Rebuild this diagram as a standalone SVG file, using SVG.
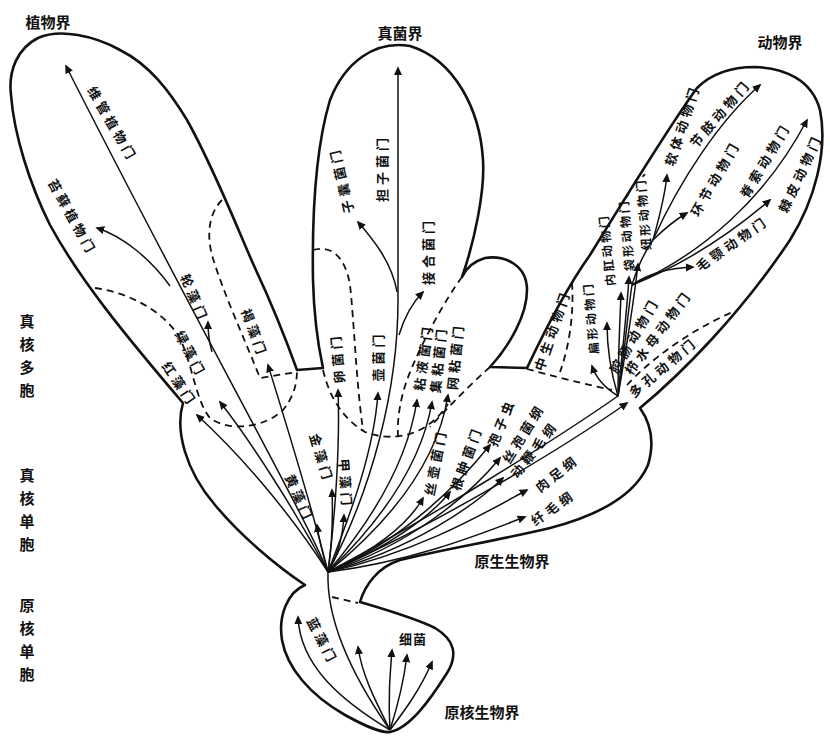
<svg xmlns="http://www.w3.org/2000/svg" width="830" height="736" viewBox="0 0 830 736">
<defs>
<marker id="ah" viewBox="0 0 10 10" refX="8" refY="5" markerWidth="9" markerHeight="9" markerUnits="userSpaceOnUse" orient="auto"><path d="M0,0.5 L10,5 L0,9.5 z" fill="#111"/></marker>
<style>
.ol{fill:none;stroke:#111;stroke-width:2.6;stroke-linejoin:round}
.ds{fill:none;stroke:#111;stroke-width:1.8;stroke-dasharray:7 5}
.ar{fill:none;stroke:#111;stroke-width:1.5;marker-end:url(#ah)}
.ln{fill:none;stroke:#111;stroke-width:1.5}
.lb{font-family:"Noto Sans CJK SC","Noto Sans",sans-serif;font-weight:700;font-size:13px;letter-spacing:4px;fill:#111;text-anchor:middle;dominant-baseline:central}
.sm{font-size:12px;letter-spacing:2.5px}
.kd{font-family:"Noto Sans CJK SC","Noto Sans",sans-serif;font-weight:700;font-size:15px;fill:#111;text-anchor:middle}
.lv{font-family:"Noto Sans CJK SC","Noto Sans",sans-serif;font-weight:700;font-size:15px;fill:#111;text-anchor:middle;dominant-baseline:central}
</style>
</defs>
<rect width="830" height="736" fill="#fff"/>

<g id="outline">
<path class="ol" d="M297,370 C288,345 270,300 255,268 C240,235 215,170 187,120 C170,92 150,65 120,50 C95,36 60,28 38,38 C18,48 8,70 11,95 C14,135 30,185 50,225 C80,280 125,335 183,403 C175,430 185,470 215,505 C240,535 275,565 305,585 C288,592 278,615 282,640 C287,668 310,695 345,715 C365,726 380,733 390,732 C410,728 430,700 447,673 C458,655 455,640 435,628 C415,618 380,608 360,602 C365,585 378,567 400,560 C440,550 500,540 550,528 C600,515 635,495 648,465 C654,445 652,425 640,408 C680,375 740,315 790,240 C815,200 828,150 820,110 C812,80 785,68 755,67 C730,67 710,75 697,88 C670,125 630,190 590,255 C565,290 545,330 527,368 L490,367 C510,345 527,315 527,290 C527,265 505,255 485,258 C475,261 466,268 462,277 C475,240 485,190 483,160 C480,110 455,60 410,46 C375,40 345,62 330,100 C315,150 312,220 313,280 C314,320 318,345 323,368 Z"/>
</g>

<g id="dashed">
<path class="ds" d="M95,288 C125,292 160,308 178,335 C192,360 195,400 210,418 C228,432 265,428 283,410 C293,398 297,385 297,370"/>
<path class="ds" d="M222,200 C210,212 206,232 212,255 C222,290 245,340 260,378 L297,372"/>
<path class="ds" d="M313,250 C330,245 345,255 350,285 C354,320 356,380 363,430"/>
<path class="ds" d="M323,370 C330,400 345,420 365,432 C385,440 410,438 428,425 C438,418 444,410 448,404"/>
<path class="ds" d="M462,277 C445,300 420,345 407,380 C400,400 397,420 398,436"/>
<path class="ds" d="M490,367 C470,385 450,405 430,427"/>
<path class="ds" d="M572,283 C574,310 570,345 560,372"/>
<path class="ds" d="M527,369 C550,375 575,382 612,390"/>
<path class="ds" d="M627,385 C650,360 690,330 735,311"/>
<path class="ds" d="M332,597 L358,603"/>
</g>

<g id="connectors">
<path class="ln" d="M390,730 C362,690 326,630 328,572"/>
<path class="ar" d="M328,572 C300,505 205,340 66,66"/>
<path class="ar" d="M170,286 C150,258 122,236 97,228"/>
<path class="ar" d="M212,352 C209,342 208,333 208,322"/>
<path class="ar" d="M328,572 C295,510 250,440 220,402"/>
<path class="ar" d="M328,572 C285,505 235,450 197,415"/>
<path class="ar" d="M328,572 C310,500 285,420 268,365"/>
<path class="ar" d="M328,572 C323,555 319,540 317,525"/>
<path class="ar" d="M328,572 C332,545 333,515 332,490"/>
<path class="ar" d="M328,572 C338,555 343,535 344,515"/>
<path class="ar" d="M328,572 C336,510 340,440 338,390"/>
<path class="ar" d="M328,572 C352,510 374,450 378,393"/>
<path class="ar" d="M328,572 C372,490 398,390 398,300 L398,68"/>
<path class="ar" d="M397,292 C392,262 372,238 358,222"/>
<path class="ar" d="M399,335 C405,315 413,302 423,292"/>
<path class="ar" d="M328,572 C372,520 408,460 417,400"/>
<path class="ar" d="M328,572 C382,520 422,462 432,402"/>
<path class="ar" d="M328,572 C392,520 438,460 448,395"/>
<path class="ar" d="M328,572 C372,552 408,525 423,498"/>
<path class="ar" d="M328,572 C385,550 432,515 450,492"/>
<path class="ar" d="M328,572 C405,540 462,480 490,445"/>
<path class="ar" d="M328,572 C410,545 470,495 500,458"/>
<path class="ar" d="M328,572 C415,548 475,505 503,478"/>
<path class="ar" d="M328,572 C420,552 490,510 527,490"/>
<path class="ar" d="M328,572 C420,560 490,530 525,517"/>
<path class="ar" d="M328,572 C430,528 560,450 627,403"/>
<path class="ln" d="M328,572 C430,518 555,440 618,396 C625,350 628,310 632,285 C638,265 646,250 653,240"/>
<path class="ar" d="M618,396 C605,388 596,378 592,366"/>
<path class="ar" d="M618,396 C610,370 607,345 607,323"/>
<path class="ar" d="M618,396 C618,360 620,320 621,293"/>
<path class="ar" d="M618,396 C622,355 627,310 629,277"/>
<path class="ar" d="M618,396 C626,350 634,300 638,264"/>
<path class="ar" d="M653,240 C660,215 665,195 667,175"/>
<path class="ar" d="M653,240 C680,180 720,120 760,85"/>
<path class="ar" d="M653,240 C665,228 675,220 687,213"/>
<path class="ar" d="M632,285 C650,272 672,268 693,267"/>
<path class="ar" d="M632,285 C690,262 735,230 770,200"/>
<path class="ar" d="M632,285 C700,255 765,200 807,120"/>
<path class="ar" d="M390,730 C340,700 300,665 298,617"/>
<path class="ar" d="M390,730 C375,700 362,675 358,647"/>
<path class="ar" d="M390,730 C388,700 390,675 392,650"/>
<path class="ar" d="M390,730 C398,705 404,680 407,655"/>
<path class="ar" d="M390,730 C405,710 420,690 432,662"/>
</g>

<g id="kingdoms">
<g id="k-plant"><text class="kd" x="48" y="28">植物界</text></g>
<g id="k-fungi"><text class="kd" x="400" y="39">真菌界</text></g>
<g id="k-animal"><text class="kd" x="780" y="48">动物界</text></g>
<g id="k-protist"><text class="kd" x="512" y="567">原生生物界</text></g>
<g id="k-monera"><text class="kd" x="482" y="718">原核生物界</text></g>
</g>

<g id="levels">
<g id="lv-euk-multi">
<text class="lv" x="27" y="320">真</text><text class="lv" x="27" y="343">核</text><text class="lv" x="27" y="366">多</text><text class="lv" x="27" y="389">胞</text>
</g>
<g id="lv-euk-uni">
<text class="lv" x="27" y="474">真</text><text class="lv" x="27" y="497">核</text><text class="lv" x="27" y="520">单</text><text class="lv" x="27" y="543">胞</text>
</g>
<g id="lv-pro-uni">
<text class="lv" x="27" y="604">原</text><text class="lv" x="27" y="627">核</text><text class="lv" x="27" y="650">单</text><text class="lv" x="27" y="673">胞</text>
</g>
</g>

<g id="plant-phyla">
<g id="n-weiguan"><text class="lb" transform="translate(113,124) rotate(60)">维管植物门</text></g>
<g id="n-taixian"><text class="lb" transform="translate(73,217) rotate(61)">苔藓植物门</text></g>
<g id="n-lunzao"><text class="lb" transform="translate(195,298) rotate(67)">轮藻门</text></g>
<g id="n-lvzao"><text class="lb" transform="translate(191,354) rotate(62)">绿藻门</text></g>
<g id="n-hongzao"><text class="lb" transform="translate(180,384) rotate(56)">红藻门</text></g>
<g id="n-hezao"><text class="lb" transform="translate(255,333) rotate(70)">褐藻门</text></g>
</g>

<g id="fungi-phyla">
<g id="n-danzi"><text class="lb" transform="translate(381,168) rotate(-90)">担子菌门</text></g>
<g id="n-zinang"><text class="lb" transform="translate(341,180) rotate(-103)">子囊菌门</text></g>
<g id="n-jiehe"><text class="lb" transform="translate(427,251) rotate(-90)">接合菌门</text></g>
<g id="n-luanjun"><text class="lb" transform="translate(337,358) rotate(-95)">卵菌门</text></g>
<g id="n-hujun"><text class="lb" transform="translate(377,356) rotate(-90)">壶菌门</text></g>
<g id="n-nianjun"><text class="lb" transform="translate(423,357) rotate(-82)">粘液菌门</text></g>
<g id="n-jinian"><text class="lb" transform="translate(438,359) rotate(-84)">集粘菌门</text></g>
<g id="n-wangnian"><text class="lb" transform="translate(455,356) rotate(-84)">网粘菌门</text></g>
</g>

<g id="protist-phyla">
<g id="n-huangzao"><text class="lb" transform="translate(300,498) rotate(66)">黄藻门</text></g>
<g id="n-jinzao"><text class="lb" transform="translate(322,458) rotate(73)">金藻门</text></g>
<g id="n-jiazao"><text class="lb" transform="translate(346,484) rotate(86)">甲藻门</text></g>
<g id="n-sihu"><text class="lb" transform="translate(435,462) rotate(-79)">丝壶菌门</text></g>
<g id="n-genzhong"><text class="lb" transform="translate(466,458) rotate(-70)">根肿菌门</text></g>
<g id="n-baozi"><text class="lb" transform="translate(501,422) rotate(-68)">孢子虫</text></g>
<g id="n-sibao"><text class="lb" transform="translate(523,433) rotate(-58)">丝孢菌纲</text></g>
<g id="n-dongbian"><text class="lb" transform="translate(534,449) rotate(-52)">动鞭毛纲</text></g>
<g id="n-rouzu"><text class="lb" transform="translate(557,473) rotate(-38)">肉足纲</text></g>
<g id="n-xianmao"><text class="lb" transform="translate(553,507) rotate(-35)">纤毛纲</text></g>
</g>

<g id="animal-phyla">
<g id="n-zhongsheng"><text class="lb" transform="translate(552,330) rotate(-71)">中生动物门</text></g>
<g id="n-bianxing"><text class="lb sm" transform="translate(590,318) rotate(-95)">扁形动物门</text></g>
<g id="n-col3"><text class="lb sm" transform="translate(606,250) rotate(-96)">内肛动物门</text></g>
<g id="n-col2"><text class="lb sm" transform="translate(625,228) rotate(-95)">袋形动物门、</text></g>
<g id="n-col1"><text class="lb sm" transform="translate(642,207) rotate(-95)">纽形动物门、</text></g>
<g id="n-ruanti"><text class="lb" transform="translate(682,125) rotate(-72)">软体动物门</text></g>
<g id="n-jiezhi"><text class="lb" transform="translate(720,113) rotate(-49)">节肢动物门</text></g>
<g id="n-huanjie"><text class="lb" transform="translate(715,178) rotate(-60)">环节动物门</text></g>
<g id="n-jisuo"><text class="lb" transform="translate(765,160) rotate(-59)">脊索动物门</text></g>
<g id="n-jipi"><text class="lb" transform="translate(800,173) rotate(-65)">棘皮动物门</text></g>
<g id="n-maoe"><text class="lb" transform="translate(732,243) rotate(-35)">毛颚动物门</text></g>
<g id="n-qiangchang"><text class="lb" transform="translate(634,335) rotate(-60)">腔肠动物门</text></g>
<g id="n-zhishuimu"><text class="lb" transform="translate(658,332) rotate(-53)">栉水母动物门</text></g>
<g id="n-duokong"><text class="lb" transform="translate(663,367) rotate(-40)">多孔动物门</text></g>
</g>

<g id="monera-phyla">
<g id="n-lanzao"><text class="lb" transform="translate(323,641) rotate(63)">蓝藻门</text></g>
<g id="n-xijun"><text class="lb" x="413" y="638" style="letter-spacing:1px">细菌</text></g>
</g>
</svg>
